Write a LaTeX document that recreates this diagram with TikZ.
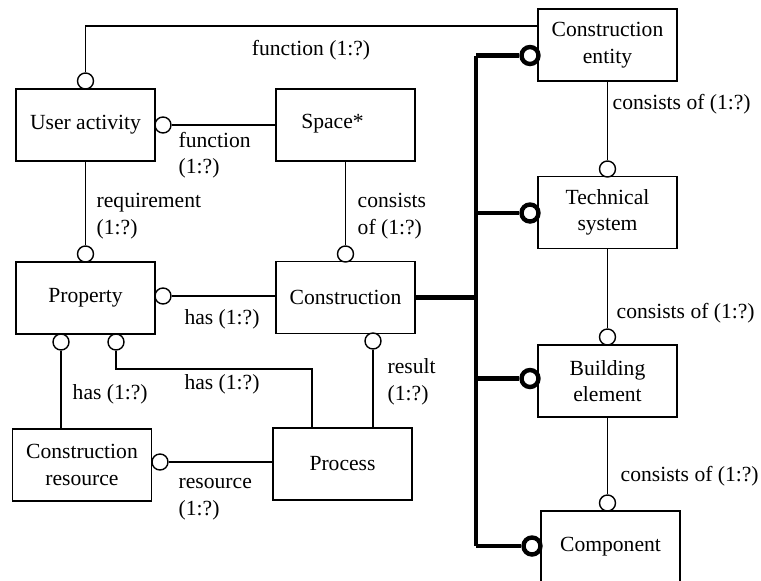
\documentclass[tikz,border=0pt]{standalone}
\usepackage{fontspec}
\setmainfont{Liberation Serif}
\begin{document}
\begin{tikzpicture}[x=0.5pt,y=-0.5pt,line width=0.7pt,
    font=\fontsize{10.8pt}{13.3pt}\selectfont,
    box/.style={draw,minimum width=69.5pt,minimum height=36pt,align=center,inner sep=1pt},
    ring/.style={draw,circle,fill=white,minimum size=8pt,inner sep=0pt},
    bigring/.style={ring,line width=2.2pt,minimum size=8.5pt},
    lbl/.style={inner sep=0pt,align=left}]
  \useasboundingbox (0,0) rectangle (761,580);
  \node[box] (ua) at (85.5,125) {User activity};
  \node[box] (sp) at (345.5,125) {\raisebox{3.5pt}{Space*}\hspace{13pt}};
  \node[box] (pr) at (85.5,298) {Property};
  \node[box] (co) at (345.5,297.5) {Construction};
  \node[box] (cr) at (82,465) {Construction\\resource};
  \node[box] (pc) at (342.5,464) {Process};
  \node[box] (ce) at (607.5,45) {Construction\\entity};
  \node[box] (ts) at (607.5,212.5) {Technical\\system};
  \node[box] (be) at (607.5,381) {Building\\element};
  \node[box] (cp) at (610.5,547) {Component};
  \node[ring] (o1) at (85.5,81) {};
  \node[ring] (o2) at (163,125) {};
  \node[ring] (o3) at (85.5,254) {};
  \node[ring] (o4) at (345.5,254) {};
  \node[ring] (o5) at (163,296) {};
  \node[ring] (o6) at (61,342) {};
  \node[ring] (o7) at (116,342) {};
  \node[ring] (o8) at (373,341) {};
  \node[ring] (o9) at (160,462) {};
  \node[ring] (o10) at (607.5,169) {};
  \node[ring] (o11) at (607.5,337) {};
  \node[ring] (o12) at (607.5,503) {};
  \coordinate (fn) at (538,26);
  \coordinate (hk) at (312,369);
  \coordinate (jt) at (476,55.5);
  \draw (o1) |- (fn);
  \draw (o2) -- (sp);
  \draw (ua) -- (o3);
  \draw (sp) -- (o4);
  \draw (o5) -- (o5 -| co.west);
  \draw (o6) -- (o6 |- cr.north);
  \draw (o7) |- (hk) -- (hk |- pc.north);
  \draw (o8) -- (o8 |- pc.north);
  \draw (o9) -- (o9 -| pc.west);
  \draw (ce) -- (o10);
  \draw (ts) -- (o11);
  \draw (be) -- (o12);
  \begin{scope}[line width=2.2pt]
    \draw (co.east) -- (co.east -| jt);
    \draw (jt) -- (jt |- 0,546);
    \node[bigring] (t1) at (530,55.5) {};
    \node[bigring] (t2) at (530,213) {};
    \node[bigring] (t3) at (530,378.5) {};
    \node[bigring] (t4) at (532,546) {};
    \draw (jt) -- (t1);
    \draw (t2 -| jt) -- (t2);
    \draw (t3 -| jt) -- (t3);
    \draw (t4 -| jt) -- (t4);
  \end{scope}
  \node[lbl] (l1) at (311,50) {function (1:?)};
  \node[lbl,anchor=west] (l2) at (178,155) {function\\(1:?)};
  \node[lbl,anchor=west] (l3) at (96,216) {requirement\\(1:?)};
  \node[lbl,anchor=west] (l4) at (357,216) {consists\\of (1:?)};
  \node[lbl] (l5) at (222,319) {has (1:?)};
  \node[lbl,anchor=west] (l6) at (72,394) {has (1:?)};
  \node[lbl] (l7) at (222,384) {has (1:?)};
  \node[lbl,anchor=west] (l8) at (387,382) {result\\(1:?)};
  \node[lbl,anchor=west] (l9) at (178,499) {resource\\(1:?)};
  \node[lbl,anchor=west] (l10) at (612,104) {consists of (1:?)};
  \node[lbl,anchor=west] (l11) at (616,313) {consists of (1:?)};
  \node[lbl,anchor=west] (l12) at (620,476) {consists of (1:?)};
\end{tikzpicture}
\end{document}
